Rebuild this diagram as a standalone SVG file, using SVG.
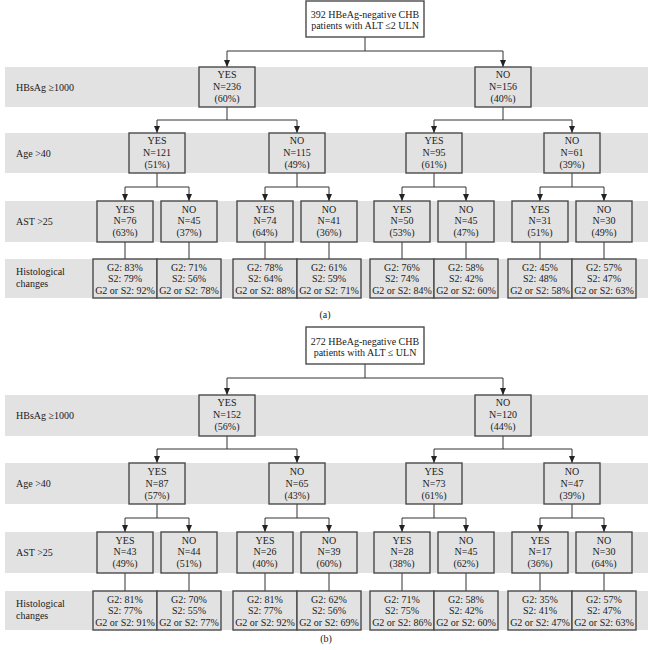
<svg xmlns="http://www.w3.org/2000/svg" width="653" height="650" viewBox="0 0 653 650">
<defs>
<marker id="arr" markerWidth="6" markerHeight="7" refX="3" refY="7" orient="0" markerUnits="userSpaceOnUse" viewBox="0 0 6 7"><path d="M0,0 L6,0 L3,7 z" fill="#222"/></marker>
<style>
text{font-family:"Liberation Serif","Times New Roman",serif;font-size:10px;fill:#1a1a1a}
.c{text-anchor:middle}
.band{fill:#e2e2e2}
.box{fill:#e2e2e2;stroke:#4a4a4a;stroke-width:1.4}
.root{fill:#fff;stroke:#4a4a4a;stroke-width:1.4}
.ln{fill:none;stroke:#333;stroke-width:1}
.ar{fill:none;stroke:#333;stroke-width:1;marker-end:url(#arr)}
</style>
</defs>
<rect width="653" height="650" fill="#fff"/>
<!-- bands panel a -->
<g id="bands-a">
<rect class="band" x="5" y="67" width="643" height="40"/>
<rect class="band" x="5" y="133" width="643" height="40"/>
<rect class="band" x="5" y="201" width="643" height="41"/>
<rect class="band" x="5" y="259" width="643" height="39"/>
<text x="16" y="91">HBsAg ≥1000</text>
<text x="16" y="157">Age &gt;40</text>
<text x="16" y="225">AST &gt;25</text>
<text x="16" y="275">Histological</text>
<text x="16" y="287">changes</text>
</g>
<g id="connectors-a">
<path class="ln" d="M365,37V51M227,51H503"/>
<path class="ar" d="M227,51V67"/><path class="ar" d="M503,51V67"/>
<path class="ln" d="M227,107V120M157,120H297M503,107V120M434,120H572"/>
<path class="ar" d="M157,120V133"/><path class="ar" d="M297,120V133"/><path class="ar" d="M434,120V133"/><path class="ar" d="M572,120V133"/>
<path class="ln" d="M157,173V187M125,187H189M297,173V187M265,187H329M434,173V187M402,187H466M572,173V187M540,187H604"/>
<path class="ar" d="M125,187V201"/><path class="ar" d="M189,187V201"/><path class="ar" d="M265,187V201"/><path class="ar" d="M329,187V201"/><path class="ar" d="M402,187V201"/><path class="ar" d="M466,187V201"/><path class="ar" d="M540,187V201"/><path class="ar" d="M604,187V201"/>
<path class="ln" d="M125,242V259M189,242V259M265,242V259M329,242V259M402,242V259M466,242V259M540,242V259M604,242V259"/>
</g>
<g id="a-root"><rect class="root" x="306" y="1" width="118" height="36"/><text class="c" x="365" y="17.5">392 HBeAg-negative CHB</text><text class="c" x="365" y="29">patients with ALT ≤2 ULN</text></g>
<g id="a-l1-yes"><rect class="box" x="199" y="67" width="56" height="40"/><text class="c" x="227" y="77.5">YES<tspan x="227" dy="12">N=236</tspan><tspan x="227" dy="12">(60%)</tspan></text></g>
<g id="a-l1-no"><rect class="box" x="475" y="67" width="56" height="40"/><text class="c" x="503" y="77.5">NO<tspan x="503" dy="12">N=156</tspan><tspan x="503" dy="12">(40%)</tspan></text></g>
<g id="a-l2-1"><rect class="box" x="129" y="133" width="56" height="40"/><text class="c" x="157" y="143.5">YES<tspan x="157" dy="12">N=121</tspan><tspan x="157" dy="12">(51%)</tspan></text></g>
<g id="a-l2-2"><rect class="box" x="269" y="133" width="56" height="40"/><text class="c" x="297" y="143.5">NO<tspan x="297" dy="12">N=115</tspan><tspan x="297" dy="12">(49%)</tspan></text></g>
<g id="a-l2-3"><rect class="box" x="406" y="133" width="56" height="40"/><text class="c" x="434" y="143.5">YES<tspan x="434" dy="12">N=95</tspan><tspan x="434" dy="12">(61%)</tspan></text></g>
<g id="a-l2-4"><rect class="box" x="544" y="133" width="56" height="40"/><text class="c" x="572" y="143.5">NO<tspan x="572" dy="12">N=61</tspan><tspan x="572" dy="12">(39%)</tspan></text></g>
<g id="a-l3-1"><rect class="box" x="97" y="201" width="56" height="41"/><text class="c" x="125" y="212.5">YES<tspan x="125" dy="11.5">N=76</tspan><tspan x="125" dy="11.5">(63%)</tspan></text></g>
<g id="a-l3-2"><rect class="box" x="161" y="201" width="56" height="41"/><text class="c" x="189" y="212.5">NO<tspan x="189" dy="11.5">N=45</tspan><tspan x="189" dy="11.5">(37%)</tspan></text></g>
<g id="a-l3-3"><rect class="box" x="237" y="201" width="56" height="41"/><text class="c" x="265" y="212.5">YES<tspan x="265" dy="11.5">N=74</tspan><tspan x="265" dy="11.5">(64%)</tspan></text></g>
<g id="a-l3-4"><rect class="box" x="301" y="201" width="56" height="41"/><text class="c" x="329" y="212.5">NO<tspan x="329" dy="11.5">N=41</tspan><tspan x="329" dy="11.5">(36%)</tspan></text></g>
<g id="a-l3-5"><rect class="box" x="374" y="201" width="56" height="41"/><text class="c" x="402" y="212.5">YES<tspan x="402" dy="11.5">N=50</tspan><tspan x="402" dy="11.5">(53%)</tspan></text></g>
<g id="a-l3-6"><rect class="box" x="438" y="201" width="56" height="41"/><text class="c" x="466" y="212.5">NO<tspan x="466" dy="11.5">N=45</tspan><tspan x="466" dy="11.5">(47%)</tspan></text></g>
<g id="a-l3-7"><rect class="box" x="512" y="201" width="56" height="41"/><text class="c" x="540" y="212.5">YES<tspan x="540" dy="11.5">N=31</tspan><tspan x="540" dy="11.5">(51%)</tspan></text></g>
<g id="a-l3-8"><rect class="box" x="576" y="201" width="56" height="41"/><text class="c" x="604" y="212.5">NO<tspan x="604" dy="11.5">N=30</tspan><tspan x="604" dy="11.5">(49%)</tspan></text></g>
<g id="a-h-1"><rect class="box" x="93" y="259" width="64" height="39"/><text class="c" x="125" y="270.5">G2: 83%<tspan x="125" dy="11.5">S2: 79%</tspan><tspan x="125" dy="11.5">G2 or S2: 92%</tspan></text></g>
<g id="a-h-2"><rect class="box" x="157" y="259" width="64" height="39"/><text class="c" x="189" y="270.5">G2: 71%<tspan x="189" dy="11.5">S2: 56%</tspan><tspan x="189" dy="11.5">G2 or S2: 78%</tspan></text></g>
<g id="a-h-3"><rect class="box" x="233" y="259" width="64" height="39"/><text class="c" x="265" y="270.5">G2: 78%<tspan x="265" dy="11.5">S2: 64%</tspan><tspan x="265" dy="11.5">G2 or S2: 88%</tspan></text></g>
<g id="a-h-4"><rect class="box" x="297" y="259" width="64" height="39"/><text class="c" x="329" y="270.5">G2: 61%<tspan x="329" dy="11.5">S2: 59%</tspan><tspan x="329" dy="11.5">G2 or S2: 71%</tspan></text></g>
<g id="a-h-5"><rect class="box" x="370" y="259" width="64" height="39"/><text class="c" x="402" y="270.5">G2: 76%<tspan x="402" dy="11.5">S2: 74%</tspan><tspan x="402" dy="11.5">G2 or S2: 84%</tspan></text></g>
<g id="a-h-6"><rect class="box" x="434" y="259" width="64" height="39"/><text class="c" x="466" y="270.5">G2: 58%<tspan x="466" dy="11.5">S2: 42%</tspan><tspan x="466" dy="11.5">G2 or S2: 60%</tspan></text></g>
<g id="a-h-7"><rect class="box" x="508" y="259" width="64" height="39"/><text class="c" x="540" y="270.5">G2: 45%<tspan x="540" dy="11.5">S2: 48%</tspan><tspan x="540" dy="11.5">G2 or S2: 58%</tspan></text></g>
<g id="a-h-8"><rect class="box" x="572" y="259" width="64" height="39"/><text class="c" x="604" y="270.5">G2: 57%<tspan x="604" dy="11.5">S2: 47%</tspan><tspan x="604" dy="11.5">G2 or S2: 63%</tspan></text></g>
<text class="c" x="325" y="317.5">(a)</text>

<!-- panel b -->
<g id="bands-b">
<rect class="band" x="5" y="395" width="643" height="41"/>
<rect class="band" x="5" y="463" width="643" height="41"/>
<rect class="band" x="5" y="532" width="643" height="41"/>
<rect class="band" x="5" y="591" width="643" height="39"/>
<text x="16" y="419">HBsAg ≥1000</text>
<text x="16" y="487">Age &gt;40</text>
<text x="16" y="556">AST &gt;25</text>
<text x="16" y="607">Histological</text>
<text x="16" y="619">changes</text>
</g>
<g id="connectors-b">
<path class="ln" d="M365,364V378M227,378H503"/>
<path class="ar" d="M227,378V395"/><path class="ar" d="M503,378V395"/>
<path class="ln" d="M227,436V449M157,449H297M503,436V449M434,449H572"/>
<path class="ar" d="M157,449V463"/><path class="ar" d="M297,449V463"/><path class="ar" d="M434,449V463"/><path class="ar" d="M572,449V463"/>
<path class="ln" d="M157,504V518M125,518H189M297,504V518M265,518H329M434,504V518M402,518H466M572,504V518M540,518H604"/>
<path class="ar" d="M125,518V532"/><path class="ar" d="M189,518V532"/><path class="ar" d="M265,518V532"/><path class="ar" d="M329,518V532"/><path class="ar" d="M402,518V532"/><path class="ar" d="M466,518V532"/><path class="ar" d="M540,518V532"/><path class="ar" d="M604,518V532"/>
<path class="ln" d="M125,573V591M189,573V591M265,573V591M329,573V591M402,573V591M466,573V591M540,573V591M604,573V591"/>
</g>
<g id="b-root"><rect class="root" x="306" y="327" width="118" height="37"/><text class="c" x="365" y="344.5">272 HBeAg-negative CHB</text><text class="c" x="365" y="356">patients with ALT ≤ ULN</text></g>
<g id="b-l1-yes"><rect class="box" x="199" y="395" width="56" height="41"/><text class="c" x="227" y="406">YES<tspan x="227" dy="12">N=152</tspan><tspan x="227" dy="12">(56%)</tspan></text></g>
<g id="b-l1-no"><rect class="box" x="475" y="395" width="56" height="41"/><text class="c" x="503" y="406">NO<tspan x="503" dy="12">N=120</tspan><tspan x="503" dy="12">(44%)</tspan></text></g>
<g id="b-l2-1"><rect class="box" x="129" y="463" width="56" height="41"/><text class="c" x="157" y="475">YES<tspan x="157" dy="12">N=87</tspan><tspan x="157" dy="12">(57%)</tspan></text></g>
<g id="b-l2-2"><rect class="box" x="269" y="463" width="56" height="41"/><text class="c" x="297" y="475">NO<tspan x="297" dy="12">N=65</tspan><tspan x="297" dy="12">(43%)</tspan></text></g>
<g id="b-l2-3"><rect class="box" x="406" y="463" width="56" height="41"/><text class="c" x="434" y="475">YES<tspan x="434" dy="12">N=73</tspan><tspan x="434" dy="12">(61%)</tspan></text></g>
<g id="b-l2-4"><rect class="box" x="544" y="463" width="56" height="41"/><text class="c" x="572" y="475">NO<tspan x="572" dy="12">N=47</tspan><tspan x="572" dy="12">(39%)</tspan></text></g>
<g id="b-l3-1"><rect class="box" x="97" y="532" width="56" height="41"/><text class="c" x="125" y="543.5">YES<tspan x="125" dy="11.5">N=43</tspan><tspan x="125" dy="11.5">(49%)</tspan></text></g>
<g id="b-l3-2"><rect class="box" x="161" y="532" width="56" height="41"/><text class="c" x="189" y="543.5">NO<tspan x="189" dy="11.5">N=44</tspan><tspan x="189" dy="11.5">(51%)</tspan></text></g>
<g id="b-l3-3"><rect class="box" x="237" y="532" width="56" height="41"/><text class="c" x="265" y="543.5">YES<tspan x="265" dy="11.5">N=26</tspan><tspan x="265" dy="11.5">(40%)</tspan></text></g>
<g id="b-l3-4"><rect class="box" x="301" y="532" width="56" height="41"/><text class="c" x="329" y="543.5">NO<tspan x="329" dy="11.5">N=39</tspan><tspan x="329" dy="11.5">(60%)</tspan></text></g>
<g id="b-l3-5"><rect class="box" x="374" y="532" width="56" height="41"/><text class="c" x="402" y="543.5">YES<tspan x="402" dy="11.5">N=28</tspan><tspan x="402" dy="11.5">(38%)</tspan></text></g>
<g id="b-l3-6"><rect class="box" x="438" y="532" width="56" height="41"/><text class="c" x="466" y="543.5">NO<tspan x="466" dy="11.5">N=45</tspan><tspan x="466" dy="11.5">(62%)</tspan></text></g>
<g id="b-l3-7"><rect class="box" x="512" y="532" width="56" height="41"/><text class="c" x="540" y="543.5">YES<tspan x="540" dy="11.5">N=17</tspan><tspan x="540" dy="11.5">(36%)</tspan></text></g>
<g id="b-l3-8"><rect class="box" x="576" y="532" width="56" height="41"/><text class="c" x="604" y="543.5">NO<tspan x="604" dy="11.5">N=30</tspan><tspan x="604" dy="11.5">(64%)</tspan></text></g>
<g id="b-h-1"><rect class="box" x="93" y="591" width="64" height="39"/><text class="c" x="125" y="602.5">G2: 81%<tspan x="125" dy="11.5">S2: 77%</tspan><tspan x="125" dy="11.5">G2 or S2: 91%</tspan></text></g>
<g id="b-h-2"><rect class="box" x="157" y="591" width="64" height="39"/><text class="c" x="189" y="602.5">G2: 70%<tspan x="189" dy="11.5">S2: 55%</tspan><tspan x="189" dy="11.5">G2 or S2: 77%</tspan></text></g>
<g id="b-h-3"><rect class="box" x="233" y="591" width="64" height="39"/><text class="c" x="265" y="602.5">G2: 81%<tspan x="265" dy="11.5">S2: 77%</tspan><tspan x="265" dy="11.5">G2 or S2: 92%</tspan></text></g>
<g id="b-h-4"><rect class="box" x="297" y="591" width="64" height="39"/><text class="c" x="329" y="602.5">G2: 62%<tspan x="329" dy="11.5">S2: 56%</tspan><tspan x="329" dy="11.5">G2 or S2: 69%</tspan></text></g>
<g id="b-h-5"><rect class="box" x="370" y="591" width="64" height="39"/><text class="c" x="402" y="602.5">G2: 71%<tspan x="402" dy="11.5">S2: 75%</tspan><tspan x="402" dy="11.5">G2 or S2: 86%</tspan></text></g>
<g id="b-h-6"><rect class="box" x="434" y="591" width="64" height="39"/><text class="c" x="466" y="602.5">G2: 58%<tspan x="466" dy="11.5">S2: 42%</tspan><tspan x="466" dy="11.5">G2 or S2: 60%</tspan></text></g>
<g id="b-h-7"><rect class="box" x="508" y="591" width="64" height="39"/><text class="c" x="540" y="602.5">G2: 35%<tspan x="540" dy="11.5">S2: 41%</tspan><tspan x="540" dy="11.5">G2 or S2: 47%</tspan></text></g>
<g id="b-h-8"><rect class="box" x="572" y="591" width="64" height="39"/><text class="c" x="604" y="602.5">G2: 57%<tspan x="604" dy="11.5">S2: 47%</tspan><tspan x="604" dy="11.5">G2 or S2: 63%</tspan></text></g>
<text class="c" x="326" y="642">(b)</text>
</svg>
